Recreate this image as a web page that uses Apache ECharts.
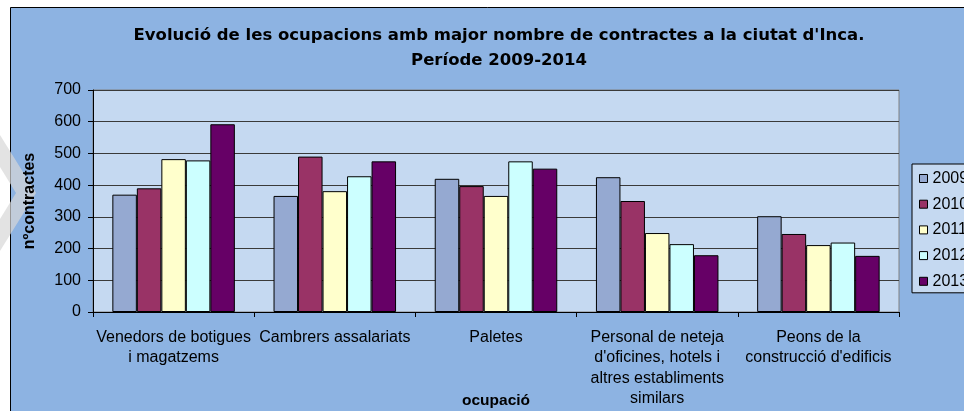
<!DOCTYPE html>
<html>
<head>
<meta charset="utf-8">
<script src="https://cdn.jsdelivr.net/npm/echarts@6/dist/echarts.min.js"></script>
<style>
  html, body { margin: 0; padding: 0; background: #fff; }
  #chart { width: 964px; height: 411px; }
</style>
</head>
<body>
<div id="chart"></div>
<script>
// dades llegides del gràfic
var categories = [
  'Venedors de botigues\ni magatzems',
  'Cambrers assalariats',
  'Paletes',
  "Personal de neteja\nd'oficines, hotels i\naltres establiments\nsimilars",
  "Peons de la\nconstrucció d'edificis"
];
var years = ['2009', '2010', '2011', '2012', '2013'];
var v2009 = [370, 366, 420, 425, 302];
var v2010 = [390, 490, 397, 350, 246];
var v2011 = [482, 381, 366, 249, 211];
var v2012 = [478, 428, 475, 214, 219];
var v2013 = [592, 475, 452, 179, 177];
var yTicks = [0, 100, 200, 300, 400, 500, 600, 700];

var colors = ['#95A9D1', '#993366', '#FFFFCC', '#CCFFFF', '#660066'];
var values = [v2009, v2010, v2011, v2012, v2013];
var font = 'Liberation Sans, Arial';

var chart = echarts.init(document.getElementById('chart'));

var series = years.map(function (y, i) {
  return {
    name: y,
    type: 'bar',
    data: values[i],
    barGap: '0%',
    barCategoryGap: '24%',
    itemStyle: { color: colors[i], borderColor: '#000', borderWidth: 1 }
  };
});

var option = {
  animation: false,
  backgroundColor: '#fff',
  color: colors,
  graphic: [
    {
      type: 'rect', z: -10,
      shape: { x: 10.5, y: 7.5, width: 1000, height: 500 },
      style: { fill: '#8DB3E2', stroke: '#000', lineWidth: 1 }
    },
    {
      // marca d'aigua grisa a l'esquerra
      type: 'polygon', z: -9,
      shape: { points: [[0, 135], [36, 193], [0, 251], [0, 219], [16, 193], [0, 167]] },
      style: { fill: 'rgba(215,215,215,0.7)' }
    },
    {
      type: 'rect', z: -8,
      shape: { x: 93, y: 90, width: 806, height: 222 },
      style: { fill: '#C5D9F1', stroke: '#808080', lineWidth: 1 }
    }
  ],
  title: {
    text: "Evolució de les ocupacions amb major nombre de contractes a la ciutat d'Inca.\nPeríode 2009-2014",
    left: 494,
    textAlign: 'center',
    top: 18,
    textStyle: {
      fontFamily: 'DejaVu Sans',
      fontWeight: 'bold',
      fontSize: 16.5,
      lineHeight: 25,
      color: '#000'
    }
  },
  legend: {
    orient: 'vertical',
    left: 912,
    top: 164,
    itemWidth: 8,
    itemHeight: 8,
    itemGap: 9.7,
    padding: [6.5, 60, 3.5, 7],
    backgroundColor: '#C5D9F1',
    borderColor: '#000',
    borderWidth: 1,
    icon: 'rect',
    itemStyle: { borderColor: '#000', borderWidth: 1 },
    textStyle: { fontFamily: font, fontSize: 16, lineHeight: 16, color: '#000' },
    data: years
  },
  grid: { left: 93, top: 90, width: 806, height: 222, outerBoundsMode: 'none', containLabel: false },
  xAxis: {
    type: 'category',
    data: categories,
    name: 'ocupació',
    nameLocation: 'middle',
    nameGap: 81,
    nameMoveOverlap: false,
    nameTextStyle: { fontFamily: font, fontWeight: 'bold', fontSize: 15.5, color: '#000' },
    axisLine: { lineStyle: { color: '#000', width: 1 } },
    axisTick: { show: true, alignWithLabel: false, length: 5, lineStyle: { color: '#000' } },
    axisLabel: {
      interval: 0,
      margin: 15,
      fontFamily: font,
      fontSize: 16,
      lineHeight: 20.5,
      color: '#000'
    }
  },
  yAxis: {
    type: 'value',
    min: yTicks[0],
    max: yTicks[yTicks.length - 1],
    interval: 100,
    name: 'nºcontractes',
    nameLocation: 'middle',
    nameGap: 55,
    nameMoveOverlap: false,
    nameTextStyle: { fontFamily: font, fontWeight: 'bold', fontSize: 16, color: '#000' },
    axisLine: { show: true, lineStyle: { color: '#000', width: 1 } },
    axisTick: { show: true, length: 5, lineStyle: { color: '#000' } },
    axisLabel: {
      margin: 12,
      fontFamily: font,
      fontSize: 16,
      color: '#000'
    },
    splitLine: { show: true, lineStyle: { color: '#3a3a3a', width: 1 } }
  },
  series: series
};

chart.setOption(option);
</script>
</body>
</html>
